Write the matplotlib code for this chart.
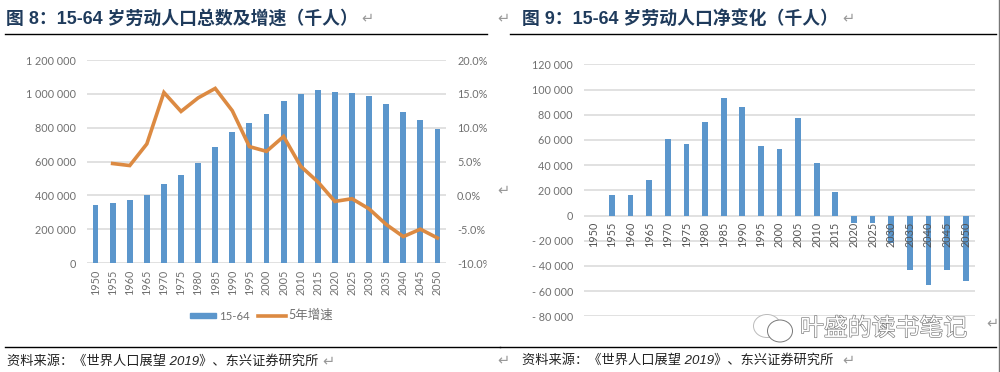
import matplotlib
matplotlib.use("Agg")
import matplotlib.pyplot as plt
import matplotlib.patheffects as pe
from matplotlib.lines import Line2D
from matplotlib.patches import Ellipse, Rectangle

plt.rcParams['font.family'] = ['Lato', 'Noto Sans CJK SC', 'DejaVu Sans']

years = [str(y) for y in range(1950, 2051, 5)]
workforce = [340000, 355000, 372000, 402000, 465000, 522000, 592000, 685000, 775000, 825000,
             880000, 960000, 1000000, 1020000, 1012000, 1005000, 985000, 940000, 890000, 845000, 793000]
growth = [4.7, 4.4, 7.6, 15.2, 12.4, 14.4, 15.8, 12.5, 7.2, 6.5, 8.7, 4.3, 2.0, -0.9, -0.5,
          -2.0, -4.3, -6.1, -5.0, -6.3]
net_change = [0, 16000, 16000, 28000, 61000, 57000, 74500, 93500, 86000, 55000, 53000, 77000,
              42000, 18500, -6000, -6000, -22000, -43000, -55500, -43500, -52000]
left_ticks = [0, 200000, 400000, 600000, 800000, 1000000, 1200000]
left_labels = ['0', '200 000', '400 000', '600 000', '800 000', '1 000 000', '1 200 000']
right_ticks = [-10, -5, 0, 5, 10, 15, 20]
right_labels = ['-10.0%', '-5.0%', '0.0%', '5.0%', '10.0%', '15.0%', '20.0%']
net_ticks = list(range(-80000, 120001, 20000))
net_labels = [('- ' if v < 0 else '') + (f'{abs(v)//1000} 000' if v else '0') for v in net_ticks]

W, H = 1000, 372
BLUE = '#5b96cc'
ORANGE = '#dc8a42'
GRID = '#dcdcdc'
TICK = '#707070'
NAVY = '#1f3b5c'
HEAD = ['Liberation Sans', 'Noto Sans CJK SC']
FS = 7.8

fig = plt.figure(figsize=(W / 100, H / 100), dpi=100, facecolor='white')


def box(x0, x1, ytop, ybot):
    return [x0 / W, 1 - ybot / H, (x1 - x0) / W, (ybot - ytop) / H]


def style(ax):
    for s in ax.spines.values():
        s.set_visible(False)
    ax.set_facecolor('none')
    ax.tick_params(length=0)


# Left chart
a1 = fig.add_axes(box(87, 446, 60, 263))
style(a1)
a1.set_axisbelow(True)
a1.yaxis.grid(True, color=GRID, lw=1.2)
a1.bar(years, workforce, width=0.34, color=BLUE, label='15-64')
a1.set_ylim(0, 1200000)
a1.set_xlim(-0.5, 20.5)
a1.set_yticks(left_ticks, left_labels, fontsize=FS, color=TICK)
a1.tick_params(axis='y', pad=8)
a1.tick_params(axis='x', pad=5)
a1.set_xticks(range(len(years)), years, rotation=90, fontsize=FS, color=TICK)
b1 = a1.twinx()
style(b1)
b1.plot(list(range(1, 21)), growth, color=ORANGE, lw=2.6, solid_joinstyle='miter', label='5年增速')
b1.set_ylim(-10, 20)
b1.set_yticks(right_ticks, right_labels, fontsize=FS, color=TICK)
b1.tick_params(axis='y', pad=8)
fig.add_artist(Rectangle((486.5 / W, 1 - 270 / H), 6 / W, 14 / H, color='white', zorder=5,
                         transform=fig.transFigure))

# Legend of the left chart
fig.add_artist(Rectangle((190 / W, 1 - 318 / H), 26 / W, 5.5 / H, color=BLUE, transform=fig.transFigure))
fig.text(219 / W, 1 - 316 / H, '15-64', fontsize=8.2, color=TICK, va='center')
fig.add_artist(Line2D([258 / W, 286 / W], [1 - 316 / H] * 2, color=ORANGE, lw=2.6))
fig.text(288 / W, 1 - 315 / H, '5年增速', fontsize=9, color=TICK, va='center')

# Right chart
a2 = fig.add_axes(box(584, 975, 64.3, 316.3))
style(a2)
a2.set_axisbelow(True)
a2.yaxis.grid(True, color=GRID, lw=1.2)
a2.bar(years, net_change, width=0.31, color=BLUE)
a2.set_ylim(-80000, 120000)
a2.set_xlim(-0.5, 20.5)
a2.set_yticks(net_ticks, net_labels, fontsize=FS, color=TICK)
a2.tick_params(axis='y', pad=8)
a2.tick_params(axis='x', labelbottom=False)

# Year labels sit on top of the bars, next to the zero line
a3 = a2.twiny()
style(a3)
a3.set_xlim(-0.5, 20.5)
a3.xaxis.set_ticks_position('bottom')
a3.set_xticks(range(len(years)), years, rotation=90, fontsize=FS, color='#555555')
a3.tick_params(axis='x', pad=-68)

# Headings and rules
fig.text(6 / W, 1 - 19 / H, '图 8：15-64 岁劳动人口总数及增速（千人）', fontsize=12.85, fontweight='bold',
         color=NAVY, va='center', family=HEAD)
fig.text(522 / W, 1 - 19 / H, '图 9：15-64 岁劳动人口净变化（千人）', fontsize=12.85, fontweight='bold',
         color=NAVY, va='center', family=HEAD)
fig.add_artist(Line2D([5 / W, 487 / W], [1 - 33.5 / H] * 2, color='black', lw=1))
fig.add_artist(Line2D([510 / W, 996 / W], [1 - 33.5 / H] * 2, color='black', lw=1))
fig.add_artist(Line2D([5 / W, 500 / W], [1 - 346.5 / H] * 2, color='black', lw=1))
fig.add_artist(Line2D([500 / W, 996 / W], [1 - 346.5 / H] * 2, color='black', lw=1))
fig.add_artist(Line2D([999 / W, 999 / W], [0, 1], color='#777777', lw=1))

# Sources
fig.text(7 / W, 1 - 361 / H, '资料来源：《世界人口展望 2019》、东兴证券研究所', fontsize=9.5, style='italic',
         color='#222222', va='center', family=HEAD)
fig.text(522 / W, 1 - 360 / H, '资料来源：《世界人口展望 2019》、东兴证券研究所', fontsize=9.5, style='italic',
         color='#222222', va='center', family=HEAD)

# Paragraph marks
for x, y in [(367, 18), (503, 18), (848, 18), (503, 190), (503, 360), (328, 361), (848, 360), (992, 323)]:
    fig.text(x / W, 1 - y / H, '↵', fontsize=10.5, color='#999999', va='center', ha='center',
             family='DejaVu Sans')

# Watermark
for (cx, cy, w, h, ec) in [(767, 326, 27, 23, '#bbbbbb'), (780, 331, 25, 22, '#777777')]:
    fig.add_artist(Ellipse((cx / W, 1 - cy / H), w / W, h / H, facecolor='white', edgecolor=ec,
                           lw=0.7, transform=fig.transFigure, zorder=4))
fig.text(800 / W, 1 - 329 / H, '叶盛的读书笔记', fontsize=17.2, color='white', va='center', zorder=4,
         family='Noto Sans CJK SC',
         path_effects=[pe.withStroke(linewidth=0.9, foreground='#777777')])

fig.savefig('out.png', dpi=100, facecolor='white')
